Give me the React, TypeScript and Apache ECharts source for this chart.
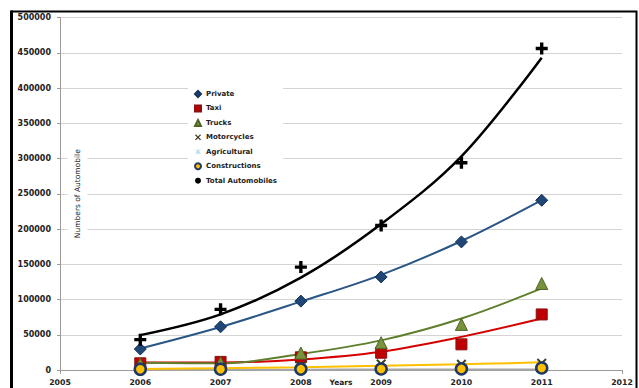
import React, { useEffect, useRef } from "react";
import * as echarts from "echarts";

// Survey years
const years = [2006, 2007, 2008, 2009, 2010, 2011];

// Registered vehicles per category
const privateCars = [29700, 61300, 97700, 132000, 181700, 240700];
const taxi = [9500, 11500, 18000, 24500, 36400, 78800];
const trucks = [8500, 10500, 24000, 38700, 64700, 122700];
const motorcycles = [3000, 4500, 5500, 8500, 8000, 9500];
const agricultural = [400, 500, 600, 700, 800, 900];
const constructions = [1000, 1100, 1300, 1400, 1600, 2800];
const totalAutomobiles = [43000, 86000, 146000, 205000, 294000, 456000];

// Fitted trend curves
const privateTrend = [30500, 61000, 97000, 135000, 183000, 241000];
const taxiTrend = [10800, 10600, 15000, 26000, 47000, 73000];
const trucksTrend = [10300, 9500, 22600, 42000, 73000, 115700];
const motorcyclesTrend = [1400, 2600, 3800, 6000, 8000, 10900];
const agriculturalTrend = [300, 400, 500, 600, 700, 800];
const totalTrend = [49500, 79000, 131000, 207000, 303000, 443000];

const FONT = "DejaVu Sans";

const PLUS = "path://M3.6,0H6.4V3.6H10V6.4H6.4V10H3.6V6.4H0V3.6H3.6Z";
const CROSS = "path://M0,1.4L1.4,0L5,3.6L8.6,0L10,1.4L6.4,5L10,8.6L8.6,10L5,6.4L1.4,10L0,8.6L3.6,5Z";
const STAR = "path://M4.5,0H5.5V4.3L8.5,1.3L9.2,2L6.2,5L9.2,8L8.5,8.7L5.5,5.7V10H4.5V5.7L1.5,8.7L0.8,8L3.8,5L0.8,2L1.5,1.3L4.5,4.3Z";

const pairs = (vals: number[]) => years.map((y, i) => [y, vals[i]]);

function trend(name: string, vals: number[], color: string, width: number) {
  return {
    name,
    type: "line",
    data: pairs(vals),
    smooth: 0.35,
    showSymbol: false,
    silent: true,
    z: 2,
    lineStyle: { color, width },
  };
}

function markers(
  name: string,
  vals: number[],
  symbol: string,
  size: number,
  color: string,
  borderColor: string,
  borderWidth: number
) {
  return {
    name,
    type: "scatter",
    data: pairs(vals),
    symbol,
    symbolSize: size,
    z: 3,
    itemStyle: { color, borderColor, borderWidth, opacity: 1 },
  };
}

export default function App() {
  const ref = useRef<HTMLDivElement>(null);

  useEffect(() => {
    if (!ref.current) return;
    const chart = echarts.init(ref.current, undefined, { renderer: "svg" });
    const axisGray = "#9a9a9a";
    chart.setOption({
      animation: false,
      backgroundColor: "#ffffff",
      grid: {
        left: 60,
        right: 17,
        top: 17.5,
        bottom: 18,
        containLabel: false,
        outerBoundsMode: "none",
      },
      xAxis: {
        type: "value",
        min: 2005,
        max: 2012,
        interval: 1,
        axisLine: { show: true, lineStyle: { color: axisGray, width: 1 } },
        axisTick: { show: true, length: 4, lineStyle: { color: axisGray } },
        axisLabel: {
          margin: 8,
          fontFamily: FONT,
          fontWeight: "bold",
          fontSize: 7.8,
          color: "#222",
          formatter: (v: number) => String(v),
        },
        splitLine: { show: false },
      },
      yAxis: {
        type: "value",
        min: 0,
        max: 500000,
        interval: 50000,
        axisLine: { show: true, lineStyle: { color: axisGray, width: 1 } },
        axisTick: { show: true, length: 3, lineStyle: { color: axisGray } },
        axisLabel: {
          margin: 9,
          fontFamily: FONT,
          fontWeight: "bold",
          fontSize: 8,
          color: "#222",
          formatter: (v: number) => String(v),
        },
        splitLine: { show: true, lineStyle: { color: "#d4d4d4", width: 1 } },
      },
      legend: {
        orient: "vertical",
        left: 188,
        top: 85,
        padding: [5, 6, 5, 6],
        backgroundColor: "#ffffff",
        itemWidth: 6,
        itemHeight: 6,
        itemGap: 6.45,
        textStyle: { fontFamily: FONT, fontWeight: "bold", fontSize: 7, color: "#222", lineHeight: 8 },
        data: [
          { name: "Private" },
          { name: "Taxi", icon: "rect" },
          { name: "Trucks" },
          { name: "Motorcycles" },
          { name: "Agricultural" },
          { name: "Constructions" },
          { name: "Total Automobiles", icon: "circle" },
        ],
      },
      graphic: [
        {
          type: "text",
          silent: true,
          z: 10,
          x: 77.5,
          y: 193.7,
          rotation: Math.PI / 2,
          style: {
            text: "Numbers of Automobile",
            fontFamily: FONT,
            fontSize: 7.5,
            fill: "#222",
            align: "center",
            verticalAlign: "middle",
            backgroundColor: "#ffffff",
            padding: [9, 6, 3, 6],
          },
        },
        {
          type: "text",
          silent: true,
          z: 10,
          x: 341,
          y: 382,
          style: {
            text: "Years",
            fontFamily: FONT,
            fontWeight: "bold",
            fontSize: 7.5,
            fill: "#222",
            align: "center",
            verticalAlign: "middle",
          },
        },
        {
          type: "rect",
          silent: true,
          z: 100,
          shape: { x: 12, y: 11.5, width: 624.5, height: 420 },
          style: { fill: "none", stroke: "#000000", lineWidth: 2 },
        },
        {
          type: "line",
          silent: true,
          z: 100,
          shape: { x1: 11.5, y1: 10.5, x2: 11.5, y2: 388 },
          style: { stroke: "#000000", lineWidth: 3 },
        },
      ],
      series: [
        trend("agriculturalTrend", agriculturalTrend, "#a6a6a6", 2),
        trend("motorcyclesTrend", motorcyclesTrend, "#ffc000", 2),
        trend("taxiTrend", taxiTrend, "#d40000", 2),
        trend("trucksTrend", trucksTrend, "#5e7f2c", 2),
        trend("privateTrend", privateTrend, "#2a5685", 2),
        trend("totalTrend", totalTrend, "#000000", 2.5),
        markers("Private", privateCars, "diamond", 12, "#1f4675", "#15325a", 1),
        markers("Taxi", taxi, "rect", 11, "#c00000", "#8a1010", 1),
        markers("Trucks", trucks, "triangle", 12, "#77933c", "#4f6228", 1),
        markers("Motorcycles", motorcycles, CROSS, 10, "#3c3f1c", "#3c3f1c", 0),
        markers("Agricultural", agricultural, STAR, 9, "#92cddc", "#92cddc", 0),
        markers("Constructions", constructions, "circle", 11, "#ffc000", "#1f3864", 2.5),
        markers("Total Automobiles", totalAutomobiles, PLUS, 12, "#000000", "#000000", 0),
      ],
    });
    return () => chart.dispose();
  }, []);

  return (
    <div
      ref={ref}
      style={{ position: "absolute", left: 0, top: 0, width: 639, height: 388 }}
    />
  );
}
